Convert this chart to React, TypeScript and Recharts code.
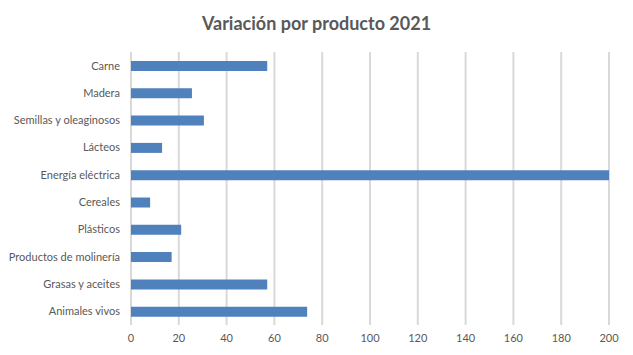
import { Bar, BarChart, CartesianGrid, XAxis, YAxis } from "recharts";

const productos = [
  "Carne",
  "Madera",
  "Semillas y oleaginosos",
  "Lácteos",
  "Energía eléctrica",
  "Cereales",
  "Plásticos",
  "Productos de molinería",
  "Grasas y aceites",
  "Animales vivos",
];
const variacion = [57, 25.5, 30.5, 13, 200, 8, 21, 17, 57, 73.7];
const xTicks = [0, 20, 40, 60, 80, 100, 120, 140, 160, 180, 200];

const data = productos.map((name, i) => ({ name, value: variacion[i] }));

const FONT = "Lato, 'Open Sans', sans-serif";
const GRAY = "#595959";

// single-line category label (the default tick wraps long names)
const CategoryTick = (props: any) => {
  const { x, y, payload } = props;
  return (
    <text
      x={x}
      y={y}
      dy="0.355em"
      textAnchor="end"
      fill={GRAY}
      fontSize={11}
      fontFamily={FONT}
    >
      {payload.value}
    </text>
  );
};

const App = () => {
  return (
    <div
      style={{
        position: "absolute",
        top: 0,
        left: 0,
        width: 633,
        height: 355,
        background: "#fff",
        fontFamily: FONT,
      }}
    >
      <div
        style={{
          position: "absolute",
          top: 11,
          left: 0,
          width: 633,
          textAlign: "center",
          fontSize: 18,
          fontWeight: 700,
          color: GRAY,
          lineHeight: "24px",
        }}
      >
        Variación por producto 2021
      </div>
      <BarChart
        width={633}
        height={355}
        data={data}
        layout="vertical"
        margin={{ top: 52, right: 24, bottom: 0, left: 0 }}
      >
        <CartesianGrid horizontal={false} stroke="#d9d9d9" strokeWidth={2} />
        <XAxis
          type="number"
          domain={[0, 200]}
          ticks={xTicks}
          axisLine={false}
          tickLine={false}
          tickSize={0}
          tickMargin={9}
          height={30}
          tick={{ fill: GRAY, fontSize: 11, fontFamily: FONT }}
        />
        <YAxis
          type="category"
          dataKey="name"
          width={131}
          axisLine={false}
          tickLine={false}
          tickSize={0}
          tickMargin={11}
          interval={0}
          tick={<CategoryTick />}
        />
        <Bar dataKey="value" fill="#4f81bd" barSize={10} isAnimationActive={false} />
      </BarChart>
    </div>
  );
};

export default App;
